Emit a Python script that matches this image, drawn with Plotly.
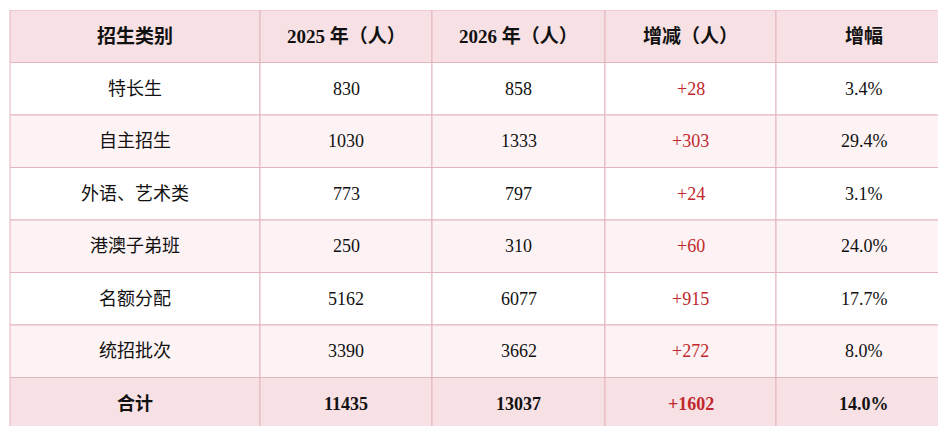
import plotly.graph_objects as go

headers = ["招生类别", "2025 年（人）", "2026 年（人）", "增减（人）", "增幅"]
categories = ["特长生", "自主招生", "外语、艺术类", "港澳子弟班", "名额分配", "统招批次", "合计"]
y2025 = [830, 1030, 773, 250, 5162, 3390, 11435]
y2026 = [858, 1333, 797, 310, 6077, 3662, 13037]
change = ["+28", "+303", "+24", "+60", "+915", "+272", "+1602"]
growth = ["3.4%", "29.4%", "3.1%", "24.0%", "17.7%", "8.0%", "14.0%"]

col_widths = [250, 172, 173, 171, 176]
n = len(categories)
cols = [categories, [str(v) for v in y2025], [str(v) for v in y2026], change, growth]
font_colors = ["#111111", "#111111", "#111111", "#c0282d", "#111111"]

edges = [2]
for w in col_widths:
    edges.append(edges[-1] + w)

fig = go.Figure()
shapes, annotations = [], []
font = "Liberation Serif, Noto Sans CJK SC"
line_c = "#e3b5bd"

for r in range(n + 1):
    if r == 0 or r == n:
        fill = "#f7e1e4"
    else:
        fill = "#ffffff" if r % 2 == 1 else "#fdf3f4"
    for c in range(5):
        shapes.append(dict(type="rect", xref="x", yref="y",
                           x0=edges[c], x1=edges[c + 1], y0=r, y1=r + 1,
                           fillcolor=fill, line=dict(color=line_c, width=1), layer="below"))
        if r == 0:
            text, color, size = "<b>" + headers[c] + "</b>", "#111111", 19
        else:
            text = cols[c][r - 1]
            if r == n:
                text = "<b>" + text + "</b>"
            color, size = font_colors[c], 18
        annotations.append(dict(x=(edges[c] + edges[c + 1]) / 2, y=r + 0.5,
                                xref="x", yref="y", text=text, showarrow=False,
                                font=dict(family=font, size=size, color=color)))

fig.update_layout(
    width=946, height=426,
    margin=dict(l=0, r=0, t=2, b=4),
    paper_bgcolor="white", plot_bgcolor="white",
    shapes=shapes, annotations=annotations,
    xaxis=dict(range=[0, 946], visible=False, fixedrange=True),
    yaxis=dict(range=[n + 1, 0], visible=False, fixedrange=True),
    showlegend=False,
)

fig.write_html("out.html")
